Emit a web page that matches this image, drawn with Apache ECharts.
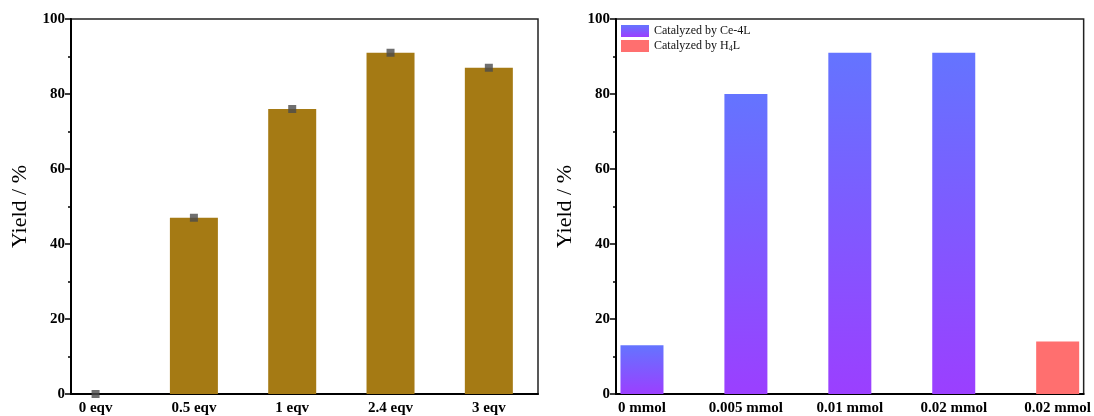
<!DOCTYPE html>
<html>
<head>
<meta charset="utf-8">
<script src="https://cdn.jsdelivr.net/npm/echarts@6/dist/echarts.min.js"></script>
<style>
html,body{margin:0;padding:0;background:#fff;}
#c{width:1094px;height:416px;}
</style>
</head>
<body>
<div id="c"></div>
<script>
// ---- data ----
var leftCategories = ['0 eqv', '0.5 eqv', '1 eqv', '2.4 eqv', '3 eqv'];
var leftValues = [0, 47, 76, 91, 87];
var rightCategories = ['0 mmol', '0.005 mmol', '0.01 mmol', '0.02 mmol', '0.02 mmol'];
var ceValues = [13, 80, 91, 91];       // Catalyzed by Ce-4L (categories 0..3)
var h4lValues = [14];                  // Catalyzed by H4L (category 4)
var yTicks = [0, 20, 40, 60, 80, 100];

var FONT = '"Liberation Serif", "Times New Roman", serif';

function pairs(vals, offset) {
  return vals.map(function (v, i) { return [i + offset, v]; });
}

function idxList(n) { var a = []; for (var i = 0; i < n; i++) a.push(i); return a; }

function yAxisCfg(gridIndex) {
  return {
    type: 'value', gridIndex: gridIndex, min: 0, max: 100, interval: 20,
    name: 'Yield / %', nameLocation: 'middle', nameGap: 40,
    nameTextStyle: { fontFamily: FONT, fontSize: 22, color: '#000' },
    axisLine: { show: true, onZero: false, lineStyle: { color: '#000', width: 2 } },
    axisTick: { show: true, inside: false, length: 6, lineStyle: { color: '#000', width: 1.5 } },
    minorTick: { show: true, splitNumber: 2, length: 3, lineStyle: { color: '#000', width: 1.5 } },
    axisLabel: { fontFamily: FONT, fontSize: 15, fontWeight: 'bold', color: '#000', margin: 6 },
    splitLine: { show: false }
  };
}

function xAxisCfg(gridIndex, cats, maxV) {
  return {
    type: 'value', gridIndex: gridIndex, min: -0.25, max: maxV,
    axisLine: { show: true, onZero: false, lineStyle: { color: '#000', width: 2 } },
    axisTick: { show: false },
    splitLine: { show: false },
    axisLabel: {
      customValues: idxList(cats.length),
      fontFamily: FONT, fontSize: 15, fontWeight: 'bold', color: '#000', margin: 7,
      formatter: function (v) { return cats[Math.round(v)] || ''; }
    }
  };
}

var gradCe = new echarts.graphic.LinearGradient(0, 0, 0, 1, [
  { offset: 0, color: '#6474FF' },
  { offset: 1, color: '#9B3FFF' }
]);

var option = {
  backgroundColor: '#fff',
  animation: false,
  grid: [
    { left: 71, right: 556, top: 19, bottom: 22, show: true, borderColor: '#222', borderWidth: 1.5, backgroundColor: 'transparent' },
    { left: 616, right: 9, top: 19, bottom: 21, show: true, borderColor: '#222', borderWidth: 1.5, backgroundColor: 'transparent' }
  ],
  xAxis: [
    xAxisCfg(0, leftCategories, 4.5),
    xAxisCfg(1, rightCategories, 4.25)
  ],
  yAxis: [yAxisCfg(0), yAxisCfg(1)],
  legend: {
    orient: 'vertical', left: 621, top: 25, padding: 0,
    itemWidth: 28, itemHeight: 12, itemGap: 3,
    icon: 'rect',
    data: ['Catalyzed by Ce-4L', 'Catalyzed by H4L'],
    textStyle: {
      fontFamily: FONT, fontSize: 12, color: '#111',
      rich: {
        a: { fontFamily: FONT, fontSize: 12, color: '#111' },
        s: { fontFamily: FONT, fontSize: 8, color: '#111', verticalAlign: 'bottom', padding: [6, 0, 0, 0] }
      }
    },
    formatter: function (name) {
      if (name === 'Catalyzed by H4L') return '{a|Catalyzed by H}{s|4}{a|L}';
      return '{a|' + name + '}';
    }
  },
  series: [
    {
      type: 'bar', xAxisIndex: 0, yAxisIndex: 0, barWidth: 48,
      data: pairs(leftValues, 0),
      itemStyle: { color: '#A57A14' }
    },
    {
      type: 'scatter', xAxisIndex: 0, yAxisIndex: 0, symbol: 'rect', symbolSize: 8,
      data: pairs(leftValues, 0),
      itemStyle: { color: '#4B4B4B' }, z: 5
    },
    {
      name: 'Catalyzed by Ce-4L',
      type: 'bar', xAxisIndex: 1, yAxisIndex: 1, barWidth: 43, barGap: '-100%',
      data: pairs(ceValues, 0),
      itemStyle: { color: gradCe }
    },
    {
      name: 'Catalyzed by H4L',
      type: 'bar', xAxisIndex: 1, yAxisIndex: 1, barWidth: 43, barGap: '-100%',
      data: pairs(h4lValues, 4),
      itemStyle: { color: '#FF6F6F' }
    }
  ]
};

var chart = echarts.init(document.getElementById('c'), null, { renderer: 'canvas' });
chart.setOption(option);
</script>
</body>
</html>
